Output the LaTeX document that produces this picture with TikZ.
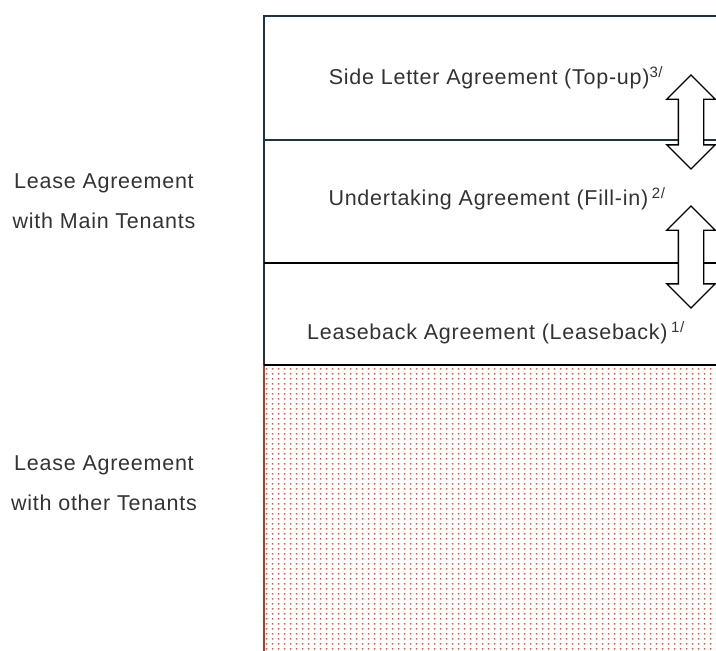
\documentclass[tikz,border=0pt]{standalone}
\usepackage{fontspec}
\setmainfont{Liberation Sans}[LetterSpace=3.5]
\usepackage{tikz}
\usetikzlibrary{positioning, shapes.arrows, patterns.meta}
\definecolor{tierNavy}{HTML}{1F3347}
\definecolor{tierText}{HTML}{333333}
\definecolor{dotRed}{HTML}{E9583A}
\definecolor{edgeRed}{HTML}{B5391C}

\tikzdeclarepattern{
    name=tenantdots,
    type=uncolored,
    bounding box={(0,0) and (6pt,5pt)},
    tile size={(6pt,5pt)},
    code={\fill (2.1pt,1.7pt) rectangle (3.9pt,3.4pt);}
}

\begin{document}
\begin{tikzpicture}[x=1pt, y=-1pt,
    lbl/.style={align=center, font=\fontsize{21.5}{40}\selectfont, text=tierText, inner sep=0pt},
    tier/.style={font=\fontsize{21.5}{24}\selectfont, text=tierText, inner sep=0pt},
    sw/.style={draw, fill=white, line width=1.4pt, double arrow, rotate=90,
        inner xsep=0pt, inner ysep=12pt, double arrow head extend=11.5pt,
        double arrow tip angle=90},
]
\useasboundingbox (0,0) rectangle (716,651);

\fill[pattern=tenantdots, pattern color=dotRed] (265,366) rectangle (716,651);
\draw[edgeRed, line width=2pt] (264,365) -- (264,651);

\draw[tierNavy, line width=1.5pt] (716,16) -- (264,16) -- (264,365);
\draw[tierNavy, line width=1.5pt] (264,140) -- (716,140);
\draw[black, line width=2pt] (264,263) -- (716,263);
\draw[black, line width=2pt] (264,365) -- (716,365);

\node[lbl] (mainten) at (104,201) {Lease Agreement\\with Main Tenants};
\node[lbl] (othten) at (104,483) {Lease Agreement\\with other Tenants};

\node[tier] (topup) at (496,78) {Side Letter Agreement (Top-up)\textsuperscript{3/}};
\node[tier] (fillin) at (497,199) {Undertaking Agreement (Fill-in)\,\textsuperscript{2/}};
\node[tier] (lback) at (496,333) {Leaseback Agreement (Leaseback)\,\textsuperscript{1/}};

\node[sw, minimum height=94pt] (swtop) at (691,122) {};
\node[sw, minimum height=102pt] (swlow) at (691,257) {};
\end{tikzpicture}
\end{document}
